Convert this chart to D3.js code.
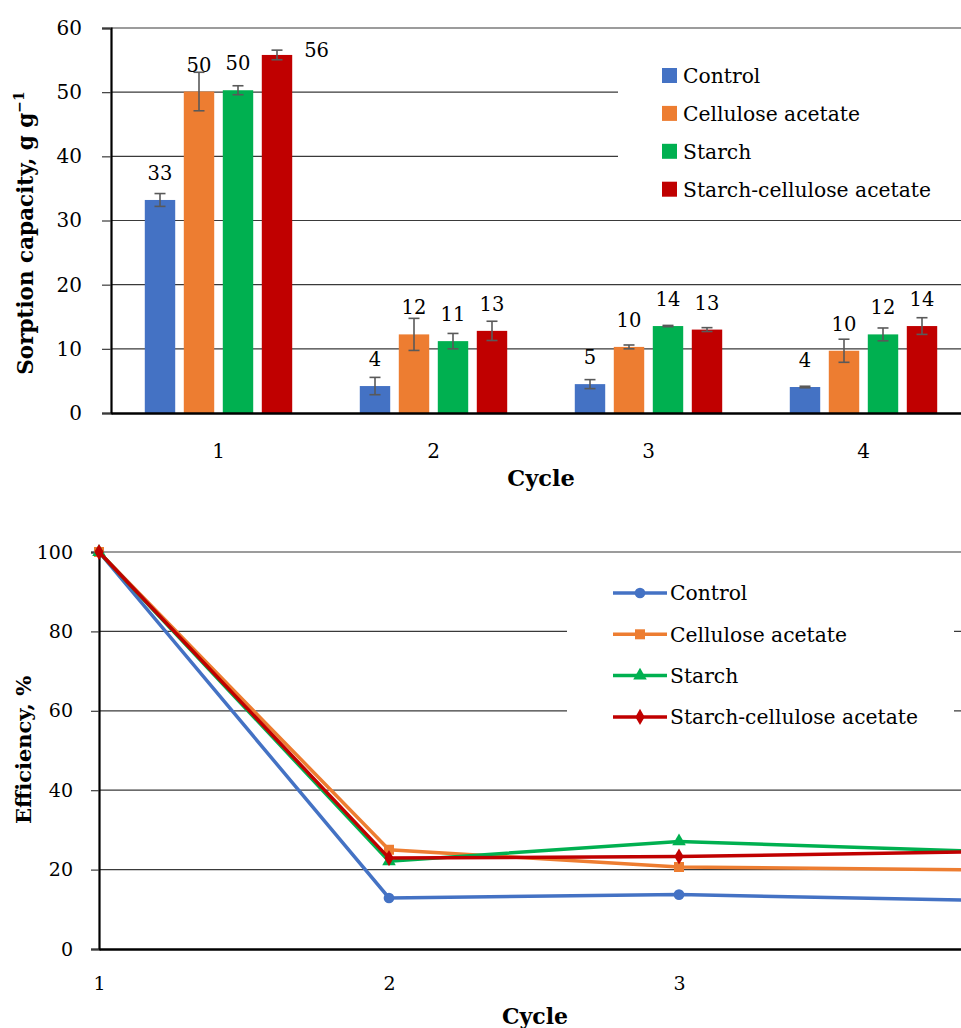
<!DOCTYPE html>
<html>
<head>
<meta charset="utf-8">
<script src="https://cdn.jsdelivr.net/npm/d3@7/dist/d3.min.js"></script>
<style>
    body { margin: 0; background: #fff; }
    svg { display: block; font-family: "DejaVu Serif", "Liberation Serif", serif; }
</style>
</head>
<body>
<svg id="chart" width="961" height="1028"></svg>
<script>

const cycles = [1, 2, 3, 4];
const seriesNames = ["Control", "Cellulose acetate", "Starch", "Starch-cellulose acetate"];
const seriesColors = ["#4472C4", "#ED7D31", "#00B050", "#C00000"];

// sorption capacity, g/g
const capControl = [33.2, 4.2, 4.5, 4.05];
const capCellulose = [50.1, 12.25, 10.3, 9.7];
const capStarch = [50.3, 11.2, 13.55, 12.25];
const capStarchCell = [55.8, 12.8, 13.0, 13.55];

// error bars (+/-)
const errControl = [1.0, 1.35, 0.7, 0.12];
const errCellulose = [3.0, 2.5, 0.3, 1.8];
const errStarch = [0.7, 1.2, 0.1, 1.0];
const errStarchCell = [0.75, 1.5, 0.3, 1.3];

// efficiency, %
const effControl = [100, 12.85, 13.7, 12.3];
const effCellulose = [100, 25.0, 20.65, 19.95];
const effStarch = [100, 22.1, 27.1, 24.7];
const effStarchCell = [100, 22.9, 23.3, 24.45];

const capTicks = [0, 10, 20, 30, 40, 50, 60];
const effTicks = [0, 20, 40, 60, 80, 100];
const effCycleLabels = [1, 2, 3];

const capSeries = [capControl, capCellulose, capStarch, capStarchCell];
const errSeries = [errControl, errCellulose, errStarch, errStarchCell];
const effSeries = [effControl, effCellulose, effStarch, effStarchCell];

const svg = d3.select("#chart");

drawBars();
drawLines();

function styleAxis (axisG, size) {
    axisG.attr("font-family", null).attr("font-size", null);
    axisG.select(".domain").attr("stroke", "#000").attr("stroke-width", 2.2);
    axisG.selectAll(".tick line").attr("stroke", "#3a3a3a").attr("stroke-width", 1.2);
    axisG.selectAll("text").attr("font-size", size).attr("fill", "#000");
}

function drawBars () {

    const x = d3.scaleBand().domain(cycles).range([111, 971]);
    const xSub = d3.scaleBand().domain(d3.range(4))
        .range([29.5, 185.5]).paddingInner(0.22).paddingOuter(0.11);
    const y = d3.scaleLinear().domain([0, 60]).range([413, 28]);

    const g = svg.append("g").attr("class", "bar-chart");

    // gridlines
    g.append("g").selectAll("line").data(capTicks.slice(1)).join("line")
        .attr("x1", 111).attr("x2", 971)
        .attr("y1", d => y(d)).attr("y2", d => y(d))
        .attr("stroke", "#3a3a3a").attr("stroke-width", 1.2);

    // legend background hides gridlines
    g.append("rect").attr("x", 618).attr("y", 36).attr("width", 360).attr("height", 176).attr("fill", "#fff");

    const yAxis = g.append("g").attr("transform", "translate(111,0)")
        .call(d3.axisLeft(y).tickValues(capTicks).tickSize(9).tickPadding(20));
    styleAxis(yAxis, 20);

    const groups = g.append("g").selectAll("g.cycle")
        .data(cycles).join("g").attr("class", "cycle")
        .attr("transform", d => `translate(${x(d)},0)`);

    const cells = groups.selectAll("g.cell")
        .data((c, ci) => seriesNames.map((s, si) => ({
            si: si, value: capSeries[si][ci], err: errSeries[si][ci]
        })))
        .join("g").attr("class", "cell");

    cells.append("rect")
        .attr("x", d => xSub(d.si))
        .attr("width", xSub.bandwidth())
        .attr("y", d => y(d.value))
        .attr("height", d => y(0) - y(d.value))
        .attr("fill", d => seriesColors[d.si]);

    const cx = d => xSub(d.si) + xSub.bandwidth() / 2;

    cells.append("line")
        .attr("x1", cx).attr("x2", cx)
        .attr("y1", d => y(d.value + d.err)).attr("y2", d => y(d.value - d.err))
        .attr("stroke", "#595959").attr("stroke-width", 1.6);
    cells.selectAll("line.cap").data(d => [d.value + d.err, d.value - d.err].map(v => ({d: d, v: v})))
        .join("line").attr("class", "cap")
        .attr("x1", e => cx(e.d) - 5.5).attr("x2", e => cx(e.d) + 5.5)
        .attr("y1", e => y(e.v)).attr("y2", e => y(e.v))
        .attr("stroke", "#595959").attr("stroke-width", 1.6);

    // data labels (moved beside the bar when there is no room above)
    const noRoom = d => y(d.value) - 35 < y(60);
    cells.append("text")
        .attr("font-size", 19.5)
        .attr("text-anchor", d => noRoom(d) ? "start" : "middle")
        .attr("x", d => noRoom(d) ? xSub(d.si) + xSub.bandwidth() + 12 : cx(d))
        .attr("y", d => noRoom(d) ? y(d.value) + 2 : y(d.value) - 20)
        .text(d => Math.round(d.value));

    // x axis
    const xAxis = g.append("g").attr("transform", "translate(0,413)")
        .call(d3.axisBottom(x).tickSize(0).tickPadding(31));
    styleAxis(xAxis, 20);
    xAxis.select(".domain").attr("stroke-width", 2.4);

    g.append("text").attr("x", 541).attr("y", 486)
        .attr("text-anchor", "middle").attr("font-weight", "bold").attr("font-size", 22.5)
        .text("Cycle");

    const title = g.append("text")
        .attr("transform", "translate(33,233) rotate(-90)")
        .attr("text-anchor", "middle").attr("font-weight", "bold").attr("font-size", 21.5);
    title.append("tspan").text("Sorption capacity, g g");
    title.append("tspan").attr("dy", -9).attr("font-size", 14).text("\u22121");

    // legend
    const legend = g.append("g").selectAll("g").data(seriesNames).join("g")
        .attr("transform", (d, i) => `translate(662,${75.5 + i * 37.9})`);
    legend.append("rect").attr("x", 0).attr("y", -7.5).attr("width", 15).attr("height", 15)
        .attr("fill", (d, i) => seriesColors[i]);
    legend.append("text").attr("x", 21).attr("dy", "0.36em").attr("font-size", 20.3).text(d => d);
}

function drawLines () {

    const x = d3.scalePoint().domain(cycles).range([99, 969]);
    const y = d3.scaleLinear().domain([0, 100]).range([949, 552]);

    const g = svg.append("g").attr("class", "line-chart");

    g.append("g").selectAll("line").data(effTicks.slice(1)).join("line")
        .attr("x1", 99).attr("x2", 971)
        .attr("y1", d => y(d)).attr("y2", d => y(d))
        .attr("stroke", "#3a3a3a").attr("stroke-width", 1.2);

    g.append("rect").attr("x", 567).attr("y", 566).attr("width", 387).attr("height", 172).attr("fill", "#fff");

    const yAxis = g.append("g").attr("transform", "translate(99,0)")
        .call(d3.axisLeft(y).tickValues(effTicks).tickSize(8).tickPadding(18));
    styleAxis(yAxis, 19);

    // the 4th cycle sits past the right edge, so its label is not shown
    const xAxis = g.append("g").attr("transform", "translate(0,949)")
        .call(d3.axisBottom(x).tickValues(effCycleLabels).tickSize(0).tickPadding(28));
    styleAxis(xAxis, 19);
    xAxis.select(".domain").attr("stroke-width", 2.4);

    g.append("text").attr("x", 535).attr("y", 1024)
        .attr("text-anchor", "middle").attr("font-weight", "bold").attr("font-size", 22)
        .text("Cycle");

    g.append("text")
        .attr("transform", "translate(31,750) rotate(-90)")
        .attr("text-anchor", "middle").attr("font-weight", "bold").attr("font-size", 21)
        .text("Efficiency, %");

    const line = d3.line().x((d, i) => x(cycles[i])).y(d => y(d));
    const symbols = [d3.symbolCircle, d3.symbolSquare, d3.symbolTriangle, d3.symbolDiamond];
    const symbolSizes = [90, 100, 80, 75];

    const series = g.append("g").selectAll("g.series").data(effSeries).join("g").attr("class", "series");

    series.append("path")
        .attr("d", d => line(d))
        .attr("fill", "none")
        .attr("stroke", (d, i) => seriesColors[i])
        .attr("stroke-width", 3.5);

    series.each(function (vals, si) {
        d3.select(this).selectAll("path.marker").data(vals).join("path").attr("class", "marker")
            .attr("transform", (d, i) => `translate(${x(cycles[i])},${y(d)})`)
            .attr("d", d3.symbol().type(symbols[si]).size(symbolSizes[si]))
            .attr("fill", seriesColors[si]);
    });

    const legend = g.append("g").selectAll("g").data(seriesNames).join("g")
        .attr("transform", (d, i) => `translate(613,${593 + i * 41.3})`);
    legend.append("line").attr("x1", 0).attr("x2", 54)
        .attr("stroke", (d, i) => seriesColors[i]).attr("stroke-width", 3.5);
    legend.append("path")
        .attr("transform", "translate(27,0)")
        .attr("d", (d, i) => d3.symbol().type(symbols[i]).size(symbolSizes[i])())
        .attr("fill", (d, i) => seriesColors[i]);
    legend.append("text").attr("x", 57).attr("dy", "0.36em").attr("font-size", 20.3).text(d => d);
}

</script>
</body>
</html>
